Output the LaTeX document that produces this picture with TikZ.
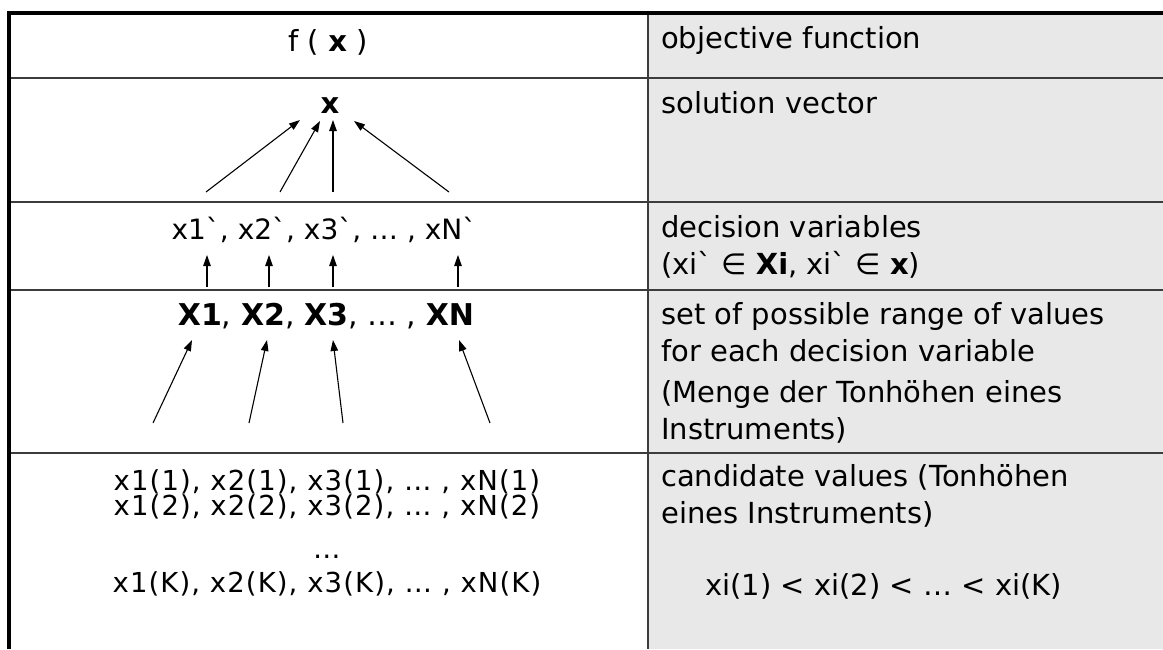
\documentclass[tikz,border=0pt]{standalone}
\usepackage{fontspec}
\setmainfont{DejaVu Sans}
\newfontfamily\spacedfont[LetterSpace=4]{DejaVu Sans}
\usetikzlibrary{arrows.meta, positioning}
\definecolor{cellgray}{RGB}{232,232,232}
\definecolor{rulegray}{RGB}{60,60,60}
\newcommand{\tightlines}{\lineskiplimit=-100pt\relax\lineskip=0pt\relax}

\begin{document}
\begin{tikzpicture}[
        x=1pt, y=-1pt,
        lefttext/.style={font=\fontsize{29}{35}\selectfont, inner sep=0pt, align=center, anchor=base},
        righttext/.style={font=\fontsize{29}{37}\selectfont, inner sep=0pt, align=left, anchor=base west},
        rowrule/.style={rulegray, line width=1.5pt},
        uparrow/.style={-{Triangle[length=11pt, width=7.5pt]}, line width=1.1pt}
    ]
        \useasboundingbox (0,0) rectangle (1163,649);
        \fill[cellgray] (648,13) rectangle (1163,649);
        \draw[rowrule] (9,78) -- (1163,78);
        \draw[rowrule] (9,202) -- (1163,202);
        \draw[rowrule] (9,290) -- (1163,290);
        \draw[rowrule] (9,453) -- (1163,453);
        \draw[rowrule] (648,13) -- (648,649);
        \draw[line width=4pt] (9,649) -- (9,13) -- (1163,13);

        % left column (multi-line nodes sit on their last line)
        \node[lefttext] (fx) at (328,51) {f ( \textbf{x} )};
        \node[lefttext] (xvec) at (330,113) {\textbf{x}};
        \node[lefttext, font=\fontsize{28}{35}\selectfont] (decvars) at (324,239) {x1\textasciigrave, x2\textasciigrave, x3\textasciigrave, \dots\ , xN\textasciigrave};
        \node[lefttext, font=\fontsize{30}{35}\selectfont] (ranges) at (326,325) {\textbf{X1}, \textbf{X2}, \textbf{X3}, \dots\ , \textbf{XN}};
        \node[lefttext, font=\spacedfont\fontsize{27.5}{25.5}\selectfont\tightlines] (cands) at (327,592) {x1(1), x2(1), x3(1), \dots\ , xN(1)\\x1(2), x2(2), x3(2), \dots\ , xN(2)\\[17pt]\dots\\[8.5pt]x1(K), x2(K), x3(K), \dots\ , xN(K)};

        % right column
        \node[righttext] (objfun) at (661,48) {objective function};
        \node[righttext] (solvec) at (661,113) {solution vector};
        \node[righttext] (decdesc) at (661,274) {decision variables\\(xi\textasciigrave{} ∈ \textbf{Xi}, xi\textasciigrave{} ∈ \textbf{x})};
        \node[righttext] (rangedesc) at (661,361) {set of possible range of values\\for each decision variable};
        \node[righttext] (rangenote) at (661,439) {(Menge der Tonhöhen eines\\Instruments)};
        \node[righttext] (canddesc) at (661,523) {candidate values (Tonhöhen\\eines Instruments)};
        \node[righttext] (order) at (705,595) {xi(1) < xi(2) < \dots\ < xi(K)};

        % arrows into the solution vector
        \coordinate (sa1) at (206,192);
        \coordinate (sa2) at (280,192);
        \coordinate (sa3) at (333,192);
        \coordinate (sa4) at (449,192);
        \coordinate (st1) at (300,120);
        \coordinate (st2) at (320,121);
        \coordinate (st3) at (333,120);
        \coordinate (st4) at (354,121);
        \draw[uparrow] (sa1) -- (st1);
        \draw[uparrow] (sa2) -- (st2);
        \draw[uparrow] (sa3) -- (st3);
        \draw[uparrow] (sa4) -- (st4);

        % arrows into the decision variables
        \coordinate (da1) at (207,287);
        \coordinate (da2) at (269,287);
        \coordinate (da3) at (333,287);
        \coordinate (da4) at (458,287);
        \coordinate (dt1) at (207,255);
        \coordinate (dt2) at (269,255);
        \coordinate (dt3) at (333,255);
        \coordinate (dt4) at (458,255);
        \draw[uparrow] (da1) -- (dt1);
        \draw[uparrow] (da2) -- (dt2);
        \draw[uparrow] (da3) -- (dt3);
        \draw[uparrow] (da4) -- (dt4);

        % arrows into the value ranges
        \coordinate (ra1) at (153,423);
        \coordinate (ra2) at (249,423);
        \coordinate (ra3) at (343,423);
        \coordinate (ra4) at (490,423);
        \coordinate (rt1) at (192,340);
        \coordinate (rt2) at (267,340);
        \coordinate (rt3) at (333,340);
        \coordinate (rt4) at (459,340);
        \draw[uparrow] (ra1) -- (rt1);
        \draw[uparrow] (ra2) -- (rt2);
        \draw[uparrow] (ra3) -- (rt3);
        \draw[uparrow] (ra4) -- (rt4);
    \end{tikzpicture}
\end{document}
